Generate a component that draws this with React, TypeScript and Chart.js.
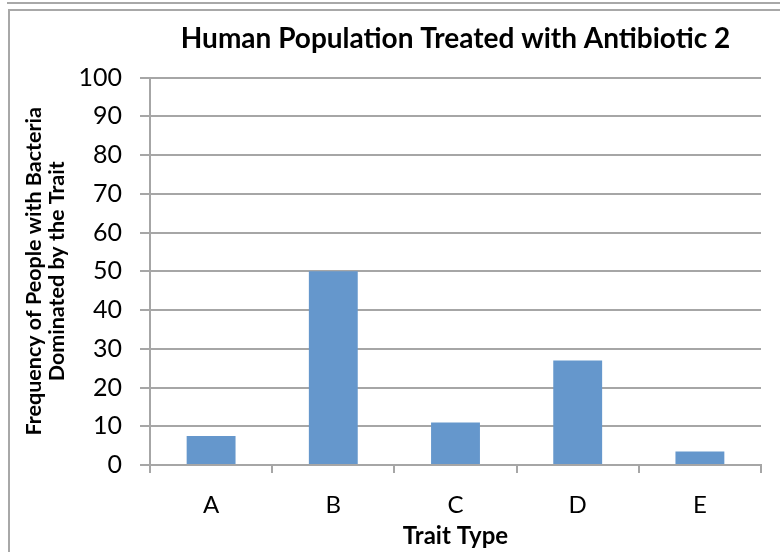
import React, { useEffect, useRef } from "react";
import { Chart, registerables } from "chart.js";

Chart.register(...registerables);

const categories = ["A", "B", "C", "D", "E"];
const values = [7.5, 50, 11, 27, 3.5];
const yTicks = [0, 10, 20, 30, 40, 50, 60, 70, 80, 90, 100];
const titleText = "Human Population Treated with Antibiotic 2";
const yTitle = ["Frequency of People with Bacteria", "Dominated by the Trait"];
const xTitle = "Trait Type";

const FONT = "Lato, 'Liberation Sans', sans-serif";
const GRID = "#a6a6a6";

const framePlugin = {
  id: "frame",
  beforeDraw(chart: any) {
    const ctx = chart.ctx;
    ctx.save();
    ctx.fillStyle = "#ffffff";
    ctx.fillRect(0, 0, chart.width, chart.height);
    ctx.strokeStyle = "#a8a8a8";
    ctx.lineWidth = 2;
    ctx.beginPath();
    ctx.moveTo(7, 3);
    ctx.lineTo(chart.width, 3);
    ctx.moveTo(8, 10);
    ctx.lineTo(chart.width, 10);
    ctx.moveTo(9, 10);
    ctx.lineTo(9, chart.height);
    ctx.stroke();
    ctx.restore();
  },
};

export default function App() {
  const ref = useRef<HTMLCanvasElement | null>(null);
  useEffect(() => {
    if (!ref.current) return;
    const chart = new Chart(ref.current, {
      type: "bar",
      data: {
        labels: categories,
        datasets: [
          {
            data: values,
            backgroundColor: "#6597cc",
            barPercentage: 0.4,
            categoryPercentage: 1,
          },
        ],
      },
      plugins: [framePlugin],
      options: {
        animation: false,
        responsive: false,
        layout: { padding: { left: 22, right: 19, top: 12, bottom: 0 } },
        plugins: {
          legend: { display: false },
          tooltip: { enabled: false },
          title: {
            display: true,
            text: titleText,
            fullSize: false,
            color: "#000",
            font: { family: FONT, size: 28, weight: "bold", lineHeight: 1.2 },
            padding: { top: 10, bottom: 22 },
          },
        },
        scales: {
          x: {
            offset: true,
            afterFit: (s: any) => {
              s.height = 87;
            },
            grid: {
              offset: true,
              drawOnChartArea: true,
              color: (c: any) => (c.index === categories.length ? GRID : "rgba(0,0,0,0)"),
              tickColor: GRID,
              tickLength: 8,
              lineWidth: 2,
            },
            border: { display: true, color: GRID, width: 2 },
            ticks: {
              color: "#000",
              font: { family: FONT, size: 24 },
              padding: 18,
            },
            title: {
              display: true,
              text: xTitle,
              color: "#000",
              font: { family: FONT, size: 24, weight: "bold" },
              padding: { top: 0, bottom: 1 },
            },
          },
          y: {
            min: 0,
            max: 100,
            afterFit: (s: any) => {
              s.width = 128;
            },
            afterBuildTicks: (s: any) => {
              s.ticks = yTicks.map((v) => ({ value: v }));
            },
            grid: {
              color: GRID,
              tickColor: GRID,
              tickLength: 10,
              lineWidth: 2,
            },
            border: { display: true, color: GRID, width: 2 },
            ticks: {
              color: "#000",
              font: { family: FONT, size: 25 },
              padding: 18,
            },
            title: {
              display: true,
              text: yTitle,
              color: "#000",
              font: { family: FONT, size: 21.5, weight: "bold", lineHeight: 1.1 },
              padding: { top: 0, bottom: 0 },
            },
          },
        },
      },
    });
    return () => chart.destroy();
  }, []);
  return (
    <div style={{ position: "fixed", left: 0, top: 0, width: 780, height: 552 }}>
      <canvas ref={ref} width={780} height={552} style={{ display: "block" }} />
    </div>
  );
}
